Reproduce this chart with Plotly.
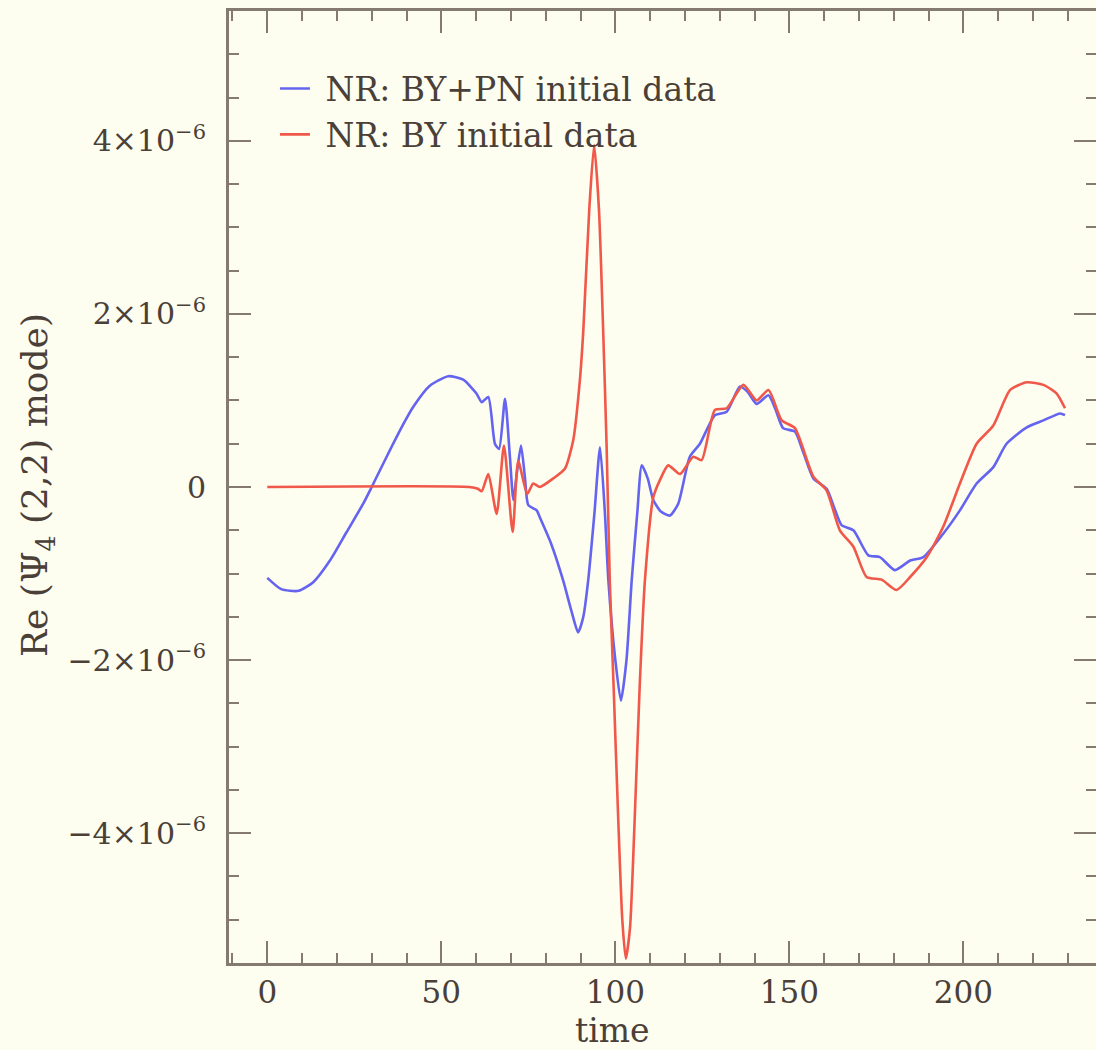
import plotly.graph_objects as go

# time values and Re(Psi4) in units of 1e-6
t_bypn = [0, 4, 9, 13.2, 18, 22.8, 27.6, 30, 34.3, 39, 42, 46.7, 52, 56.3, 60.1, 61.6, 63.5,
          65.4, 66.6, 68.3, 69.7, 70.7, 71.8, 72.9, 74.0, 75.0, 77.4, 78.3, 81.5, 85, 87.5,
          89.3, 90.8, 92.2, 94, 95.6, 97, 98, 100, 101.6, 103.2, 104.7, 106.3, 107.6, 109.3,
          110.9, 113, 115.7, 118.1, 121.4, 124.3, 128.6, 132, 135.8, 138, 140.6, 144, 146,
          148.2, 151.6, 154, 156.9, 160.7, 163, 165, 168.4, 172.7, 176, 180.3, 184.7, 188.5,
          194.2, 199, 203.8, 208.6, 212.4, 218.2, 223, 227.8, 229.2]
re_bypn = [-1.05, -1.18, -1.2, -1.1, -0.85, -0.52, -0.19, 0.0, 0.35, 0.72, 0.93, 1.17, 1.28,
           1.24, 1.08, 0.98, 1.04, 0.50, 0.44, 1.02, 0.35, -0.15, 0.19, 0.48, 0.12, -0.21,
           -0.27, -0.35, -0.65, -1.08, -1.45, -1.68, -1.5, -1.08, -0.3, 0.46, -0.3, -1.08,
           -2.0, -2.47, -2.0, -1.08, -0.3, 0.25, 0.1, -0.15, -0.28, -0.33, -0.19, 0.35, 0.5,
           0.83, 0.87, 1.16, 1.1, 0.96, 1.06, 0.9, 0.68, 0.64, 0.4, 0.10, -0.02, -0.25, -0.44,
           -0.5, -0.79, -0.81, -0.96, -0.85, -0.81, -0.54, -0.27, 0.04, 0.23, 0.5, 0.69, 0.77,
           0.85, 0.83]

t_by = [0, 58, 60.5, 61.6, 63.5, 65.9, 68, 70.5, 72.1, 74.7, 76.4, 78.3, 82.2, 85.5, 87.9,
        89.8, 90.8, 92.5, 93.9, 95.3, 96.5, 97.5, 98.4, 99.5, 100.8, 102, 103, 104.2, 105.5,
        107, 108.5, 110.9, 112.8, 115.2, 118.6, 122.4, 124.8, 128.6, 132, 136.8, 140.6, 144,
        147.8, 151.6, 156.9, 160.7, 164.5, 168.4, 172.2, 176.5, 180.8, 184.7, 189.5, 194.2,
        199, 203.8, 208.6, 213.4, 218.2, 223, 226.8, 229.2]
re_by = [0, 0, -0.02, -0.05, 0.15, -0.31, 0.48, -0.52, 0.3, -0.08, 0.04, 0.0, 0.1, 0.21, 0.54,
         1.23, 1.81, 3.2, 3.95, 3.2, 1.81, 0.46, -1.08, -2.3, -3.8, -5.0, -5.45, -5.1, -3.9,
         -2.3, -1.08, -0.12, 0.08, 0.25, 0.15, 0.35, 0.31, 0.89, 0.91, 1.18, 1.0, 1.12, 0.77,
         0.68, 0.12, -0.04, -0.5, -0.69, -1.04, -1.07, -1.19, -1.04, -0.81, -0.46, 0.04, 0.5,
         0.71, 1.12, 1.21, 1.18, 1.08, 0.91]

x_ticks = [0, 50, 100, 150, 200]
y_ticks = [-4e-6, -2e-6, 0, 2e-6, 4e-6]
y_ticktext = ["\u22124\u00d710<sup>\u22126</sup>", "\u22122\u00d710<sup>\u22126</sup>", "0",
              "2\u00d710<sup>\u22126</sup>", "4\u00d710<sup>\u22126</sup>"]
series_names = ["\u00a0NR: BY+PN initial data", "\u00a0NR: BY initial data"]

BG = "#fdfdf0"
AX = "#857a70"
TXT = "#4a4038"
FONT = "DejaVu Serif"
Y_RANGE = [-5.5e-6, 5.5e-6]

fig = go.Figure()
fig.add_trace(go.Scatter(x=t_bypn, y=[v * 1e-6 for v in re_bypn], mode="lines",
                         name=series_names[0],
                         line=dict(color="#6464f0", width=2.6, shape="spline", smoothing=0.6)))
fig.add_trace(go.Scatter(x=t_by, y=[v * 1e-6 for v in re_by], mode="lines",
                         name=series_names[1],
                         line=dict(color="#f0584a", width=2.6, shape="spline", smoothing=0.6)))
# empty trace so the right-hand tick axis (ticks only, no line) is drawn
fig.add_trace(go.Scatter(x=[None], y=[None], yaxis="y2", showlegend=False, hoverinfo="skip"))

minor_y = dict(dtick=0.5e-6, tick0=0, ticks="inside", ticklen=10, tickwidth=2, tickcolor=AX,
               showgrid=False)

fig.update_layout(
    width=1096, height=1050,
    margin=dict(l=229, r=0, t=11, b=87),
    paper_bgcolor=BG, plot_bgcolor=BG,
    font=dict(family=FONT, color=TXT, size=30),
    showlegend=True,
    legend=dict(x=0.053, y=0.948, xanchor="left", yanchor="top", bgcolor="rgba(0,0,0,0)",
                font=dict(family=FONT, size=33, color=TXT), tracegroupgap=0,
                itemwidth=30),
    xaxis=dict(
        range=[-11, 238.1], tickvals=x_ticks, ticks="inside", ticklen=22, tickwidth=2,
        tickcolor=AX, showline=True, linecolor=AX, linewidth=3, mirror="ticks",
        showgrid=False, zeroline=False, tickfont=dict(size=31, family=FONT, color=TXT),
        minor=dict(dtick=10, tick0=0, ticks="inside", ticklen=10, tickwidth=2, tickcolor=AX,
                   showgrid=False),
    ),
    yaxis=dict(
        range=Y_RANGE, tickvals=y_ticks, ticktext=y_ticktext, ticks="inside",
        ticklen=22, tickwidth=2, tickcolor=AX, showline=True, linecolor=AX, linewidth=3,
        mirror=False, showgrid=False, zeroline=False, ticklabelstandoff=14,
        tickfont=dict(size=30, family=FONT, color=TXT), minor=minor_y,
    ),
    yaxis2=dict(overlaying="y", side="right", anchor="x", range=Y_RANGE, tickvals=y_ticks,
                showticklabels=False, ticks="inside", ticklen=22, tickwidth=2, tickcolor=AX,
                showline=False, showgrid=False, zeroline=False, minor=minor_y),
)
fig.add_annotation(text="time", xref="paper", yref="paper", x=(612 - 229) / 867,
                   y=0, yshift=-67, xanchor="center", yanchor="middle", showarrow=False,
                   font=dict(size=33, family=FONT, color=TXT))
fig.add_annotation(text="Re (\u03a8<sub>4</sub> (2,2) mode)", xref="paper", yref="paper",
                   x=0, xshift=-192, y=(963 - 485) / 952, xanchor="center", yanchor="middle",
                   textangle=-90, showarrow=False, font=dict(size=36, family=FONT, color=TXT))

fig.write_html("out.html")
